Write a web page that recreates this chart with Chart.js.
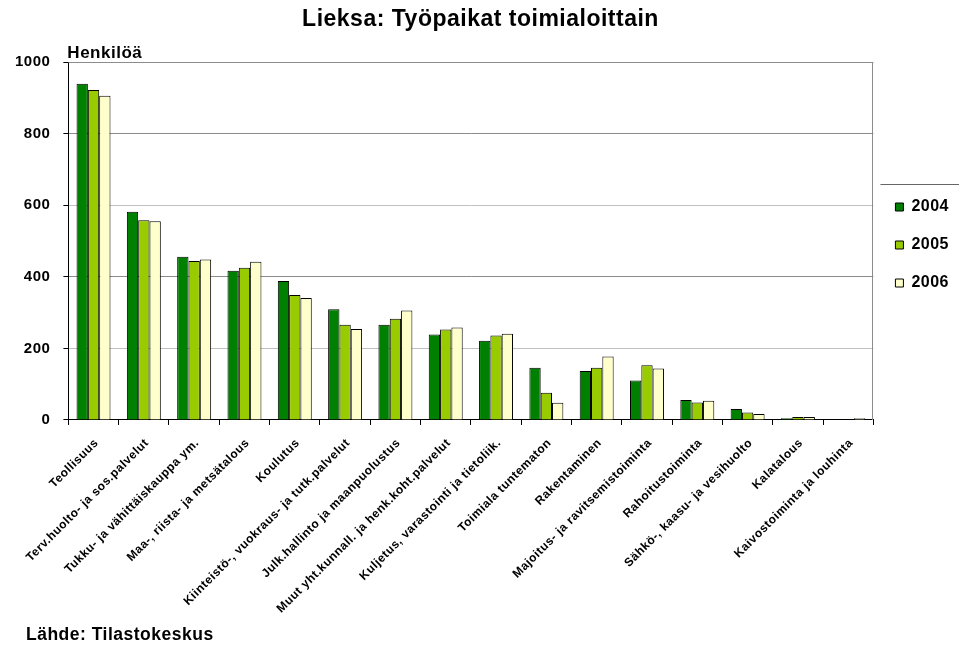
<!DOCTYPE html>
<html>
<head>
<meta charset="utf-8">
<script src="https://cdn.jsdelivr.net/npm/chart.js@4"></script>
<style>
  body { margin: 0; background: #fff; }
  #wrap { width: 959px; height: 645px; }
</style>
</head>
<body>
<div id="wrap"><canvas id="chart"></canvas></div>
<script>
const categories = [
  'Teollisuus',
  'Terv.huolto- ja sos.palvelut',
  'Tukku- ja vähittäiskauppa ym.',
  'Maa-, riista- ja metsätalous',
  'Koulutus',
  'Kiinteistö-, vuokraus- ja tutk.palvelut',
  'Julk.hallinto ja maanpuolustus',
  'Muut yht.kunnall. ja henk.koht.palvelut',
  'Kuljetus, varastointi ja tietoliik.',
  'Toimiala tuntematon',
  'Rakentaminen',
  'Majoitus- ja ravitsemistoiminta',
  'Rahoitustoiminta',
  'Sähkö-, kaasu- ja vesihuolto',
  'Kalatalous',
  'Kaivostoiminta ja louhinta'
];
const years = ['2004', '2005', '2006'];
const v2004 = [939, 582, 456, 417, 388, 309, 266, 239, 221, 146, 137, 110, 56, 31, 5, 1];
const v2005 = [922, 558, 444, 425, 349, 266, 283, 253, 236, 76, 146, 153, 49, 21, 8, 1];
const v2006 = [906, 555, 448, 442, 341, 254, 306, 258, 241, 48, 177, 144, 54, 17, 8, 5];
const yTicks = [0, 200, 400, 600, 800, 1000];

const FONT = '"Liberation Sans", Arial, sans-serif';
const SPACING = '0.5px';

// extra text, border lines and slightly wider lettering
const decor = {
  id: 'decor',
  beforeLayout(chart) { chart.ctx.letterSpacing = SPACING; },
  beforeDraw(chart) { chart.ctx.letterSpacing = SPACING; },
  beforeDatasetsDraw(chart) {
    const { ctx, chartArea: a } = chart;
    ctx.save();
    ctx.strokeStyle = '#8c8c8c';
    ctx.lineWidth = 1;
    ctx.beginPath();
    ctx.moveTo(Math.round(a.left) + 0.5, Math.round(a.top) + 0.5);
    ctx.lineTo(Math.round(a.right) - 0.5, Math.round(a.top) + 0.5);
    ctx.lineTo(Math.round(a.right) - 0.5, Math.round(a.bottom));
    ctx.stroke();
    ctx.restore();
  },
  afterDraw(chart) {
    const { ctx, chartArea: a } = chart;
    ctx.save();
    ctx.letterSpacing = SPACING;
    ctx.fillStyle = '#000';
    ctx.textAlign = 'left';
    ctx.textBaseline = 'alphabetic';
    ctx.font = 'bold 17px ' + FONT;
    ctx.fillText('Henkilöä', a.left - 1, a.top - 4);
    ctx.font = 'bold 17.5px ' + FONT;
    ctx.fillText('Lähde: Tilastokeskus', 26, 640);
    const hb = chart.legend.legendHitBoxes;
    if (hb && hb.length) {
      const y = Math.round(hb[0].top + hb[0].height / 2 - 23) + 0.5;
      ctx.strokeStyle = '#666';
      ctx.beginPath();
      ctx.moveTo(a.right + 7, y);
      ctx.lineTo(chart.width, y);
      ctx.stroke();
    }
    ctx.restore();
  }
};

const ctx = document.getElementById('chart').getContext('2d');
Chart.defaults.font.family = FONT;
Chart.defaults.color = '#000';

new Chart(ctx, {
  type: 'bar',
  data: {
    labels: categories,
    datasets: [
      { label: years[0], data: v2004, backgroundColor: '#008000' },
      { label: years[1], data: v2005, backgroundColor: '#99cc00' },
      { label: years[2], data: v2006, backgroundColor: '#ffffcc' }
    ].map(d => Object.assign(d, {
      borderColor: '#000',
      borderWidth: 1,
      categoryPercentage: 0.675,
      barPercentage: 1.0
    }))
  },
  options: {
    responsive: true,
    maintainAspectRatio: false,
    animation: false,
    layout: { padding: { left: 2, right: 0, top: 0, bottom: 18 } },
    plugins: {
      title: {
        display: true,
        text: 'Lieksa: Työpaikat toimialoittain',
        font: { size: 23, weight: 'bold' },
        color: '#000',
        padding: { top: 6, bottom: 28.4 }
      },
      legend: {
        position: 'right',
        align: 'start',
        title: { display: true, text: '', font: { size: 10 }, padding: { top: 165, bottom: 0 } },
        labels: {
          boxWidth: 8,
          boxHeight: 8,
          padding: 22,
          font: { size: 16, weight: 'bold' },
          color: '#000'
        }
      },
      tooltip: { enabled: false }
    },
    scales: {
      x: {
        grid: {
          offset: true,
          drawOnChartArea: false,
          tickLength: 5,
          tickColor: '#000'
        },
        border: { color: '#000', width: 1 },
        ticks: {
          autoSkip: false,
          maxRotation: 45,
          minRotation: 45,
          padding: 11,
          labelOffset: 3,
          font: { size: 12, weight: 'bold' },
          color: '#000'
        }
      },
      y: {
        min: 0,
        max: 1000,
        afterBuildTicks(scale) { scale.ticks = yTicks.map(v => ({ value: v })); },
        grid: {
          color: c => (c.tick && (c.tick.value === 200 || c.tick.value === 600)) ? '#c0c0c0' : '#8c8c8c',
          tickLength: 5,
          tickColor: '#000'
        },
        border: { color: '#000', width: 1 },
        ticks: {
          padding: 13,
          callback: v => String(v),
          font: { size: 15, weight: 'bold' },
          color: '#000'
        }
      }
    }
  },
  plugins: [decor]
});
</script>
</body>
</html>
